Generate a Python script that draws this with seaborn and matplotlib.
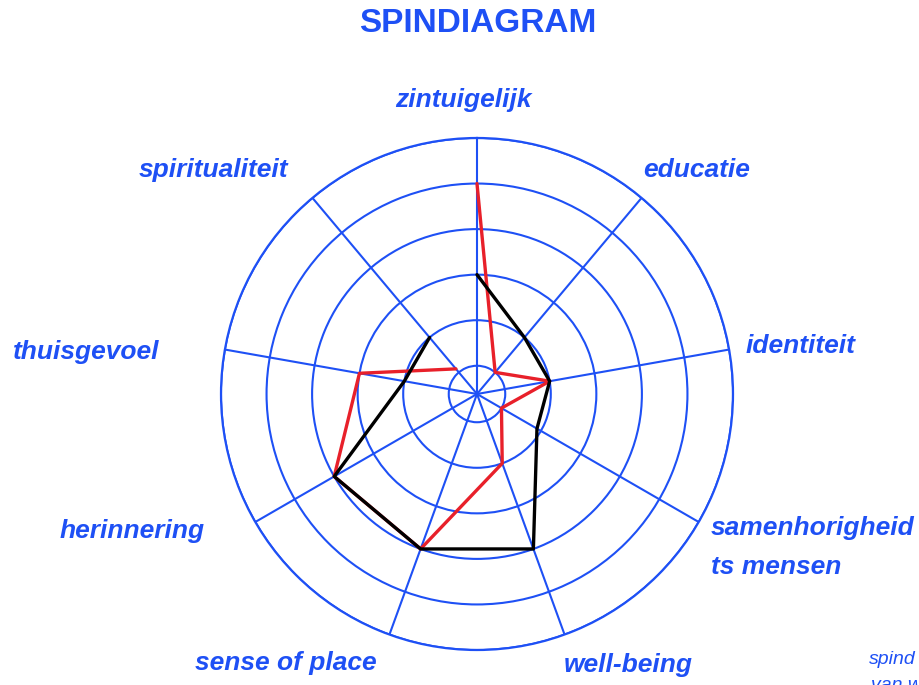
import numpy as np
import pandas as pd
import matplotlib
matplotlib.use("Agg")
import matplotlib.pyplot as plt
import seaborn as sns

categories = ["zintuigelijk", "educatie", "identiteit", "samenhorigheid\nts mensen",
              "well-being", "sense of place", "herinnering", "thuisgevoel", "spiritualiteit"]
red_values = [4, 0, 1, 0, 1, 3, 3, 2, 0.1]
black_values = [2, 1, 1, 0.9, 3, 3, 3, 1, 1]
ring_levels = [0, 1, 2, 3, 4, 5]

BLUE = "#1E50F5"
OFFSET = 0.62  # inner hole

sns.set_theme(style="white")
plt.rcParams['font.family'] = ['Liberation Sans', 'DejaVu Sans']

W, H = 920, 685
fig = plt.figure(figsize=(W / 100, H / 100), dpi=100)
cx, cy, R = 477, 394, 256
ax = fig.add_axes([(cx - R) / W, (H - cy - R) / H, 2 * R / W, 2 * R / H], projection="polar")
ax.set_theta_zero_location("N")
ax.set_theta_direction(-1)

n = len(categories)
angles = np.arange(n) * 2 * np.pi / n

def closed(vals):
    th = list(angles) + [angles[0]]
    r = [v + OFFSET for v in vals] + [vals[0] + OFFSET]
    return pd.DataFrame({"theta": th, "r": r})

sns.lineplot(data=closed(red_values), x="theta", y="r", sort=False, ax=ax,
             color="#E8202A", linewidth=2.4, zorder=3)
sns.lineplot(data=closed(black_values), x="theta", y="r", sort=False, ax=ax,
             color="black", linewidth=2.4, zorder=4)

ax.set_ylim(0, 5 + OFFSET)
ax.set_yticks([v + OFFSET for v in ring_levels])
ax.set_yticklabels([])
ax.set_xticks(angles)
ax.set_xticklabels([])
ax.grid(True, color=BLUE, linewidth=1.5)
ax.spines["polar"].set_color(BLUE)
ax.spines["polar"].set_linewidth(1.6)
ax.set_xlabel("")
ax.set_ylabel("")

fig.text(478 / W, 1 - 24 / H, "SPINDIAGRAM", color=BLUE, fontsize=24, fontweight="bold",
         ha="center", va="center")

label_pos = {
    "zintuigelijk": (463, 100, "center"),
    "educatie": (697, 170, "center"),
    "identiteit": (800, 346, "center"),
    "well-being": (628, 665, "center"),
    "sense of place": (286, 663, "center"),
    "herinnering": (132, 531, "center"),
    "thuisgevoel": (86, 352, "center"),
    "spiritualiteit": (213, 170, "center"),
}
FS = 19
for cat in categories:
    if "\n" in cat:
        l1, l2 = cat.split("\n")
        fig.text(711 / W, 1 - 528 / H, l1, color=BLUE, fontsize=FS, fontweight="bold",
                 fontstyle="italic", ha="left", va="center")
        fig.text(711 / W, 1 - 567 / H, l2, color=BLUE, fontsize=FS, fontweight="bold",
                 fontstyle="italic", ha="left", va="center")
    else:
        x, y, ha = label_pos[cat]
        fig.text(x / W, 1 - y / H, cat, color=BLUE, fontsize=FS, fontweight="bold",
                 fontstyle="italic", ha=ha, va="center")

fig.text(869 / W, 1 - 660 / H, "spind", color=BLUE, fontsize=14, fontstyle="italic",
         ha="left", va="center")
fig.text(871 / W, 1 - 686 / H, "van w", color=BLUE, fontsize=14, fontstyle="italic",
         ha="left", va="center")

fig.savefig("out.png", dpi=100)
